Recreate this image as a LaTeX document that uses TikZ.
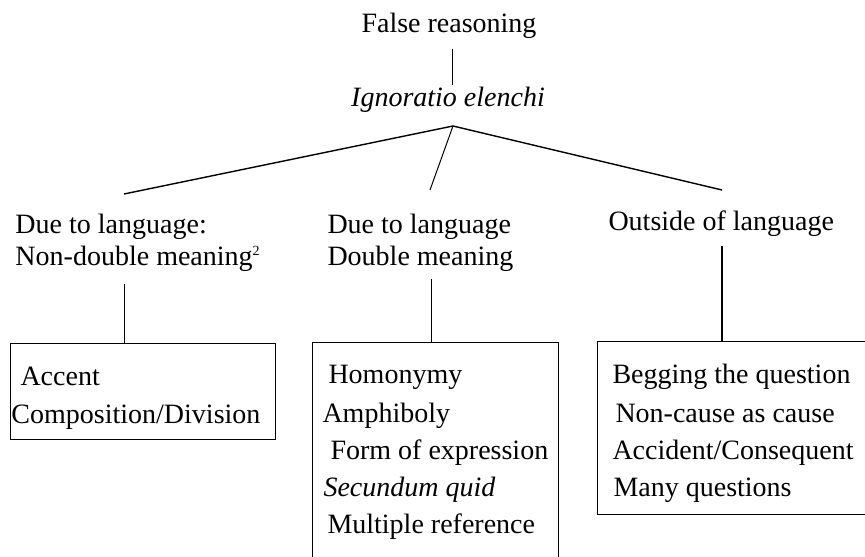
\documentclass[tikz,border=0pt]{standalone}
\usepackage{fontspec}
\setmainfont{Liberation Serif}
\begin{document}
\begin{tikzpicture}[x=1pt,y=-1pt,line width=1pt,
  lbl/.style={anchor=base west,inner sep=0pt,font=\fontsize{28}{32}\selectfont},
  ctr/.style={lbl,anchor=base},
  boxed/.style={draw,line width=1.2pt,inner sep=0pt,anchor=north west},
  edge/.style={line width=1.4pt}]
\useasboundingbox (0,0) rectangle (865,557);
\clip (0,0) rectangle (865,557);
% top
\node[ctr] (top) at (449,32) {False reasoning};
\node[ctr] (ign) at (448,106) {\itshape Ignoratio elenchi};
\coordinate (t1) at (452,49);
\coordinate (t2) at (452,85);
\draw (t1) -- (t2);
\coordinate (apex) at (453,126);
\coordinate (e1) at (124,194);
\coordinate (e2) at (430,190);
\coordinate (e3) at (722,190);
\draw[edge] (e1) -- (apex) -- (e3);
\draw (apex) -- (e2);
% second level
\node[lbl] (l1a) at (15,233) {Due to language:};
\node[lbl] (l1b) at (15,265) {Non-double meaning\textsuperscript{\fontsize{14}{14}\selectfont 2}};
\node[lbl] (l2a) at (327,233) {Due to language};
\node[lbl] (l2b) at (327,265) {Double meaning};
\node[lbl] (l3a) at (608,230) {Outside of language};
% boxes
\node[boxed,minimum width=265,minimum height=96] (b1) at (10,343) {};
\node[boxed,minimum width=246,minimum height=230] (b2) at (312,342) {};
\node[boxed,minimum width=290,minimum height=173] (b3) at (597,341) {};
% vertical connectors
\coordinate (v1) at (124,284);
\coordinate (v2) at (431,279);
\coordinate (v3) at (722,246);
\draw (v1) -- (v1 |- b1.north);
\draw (v2) -- (v2 |- b2.north);
\draw[line width=1.3pt] (v3) -- (v3 |- b3.north);
% box 1 texts
\node[lbl] (a1) at (20,385) {Accent};
\node[lbl] (a2) at (11,423) {Composition/Division};
% box 2 texts
\node[lbl] (c1) at (328,383) {Homonymy};
\node[lbl] (c2) at (322,422) {Amphiboly};
\node[lbl] (c3) at (330,459) {Form of expression};
\node[lbl] (c4) at (323,496) {\itshape Secundum quid};
\node[lbl] (c5) at (327,533) {Multiple reference};
% box 3 texts
\node[lbl] (d1) at (612,383) {Begging the question};
\node[lbl] (d2) at (615,422) {Non-cause as cause};
\node[lbl] (d3) at (612,459) {Accident/Consequent};
\node[lbl] (d4) at (613,496) {Many questions};
\end{tikzpicture}
\end{document}
